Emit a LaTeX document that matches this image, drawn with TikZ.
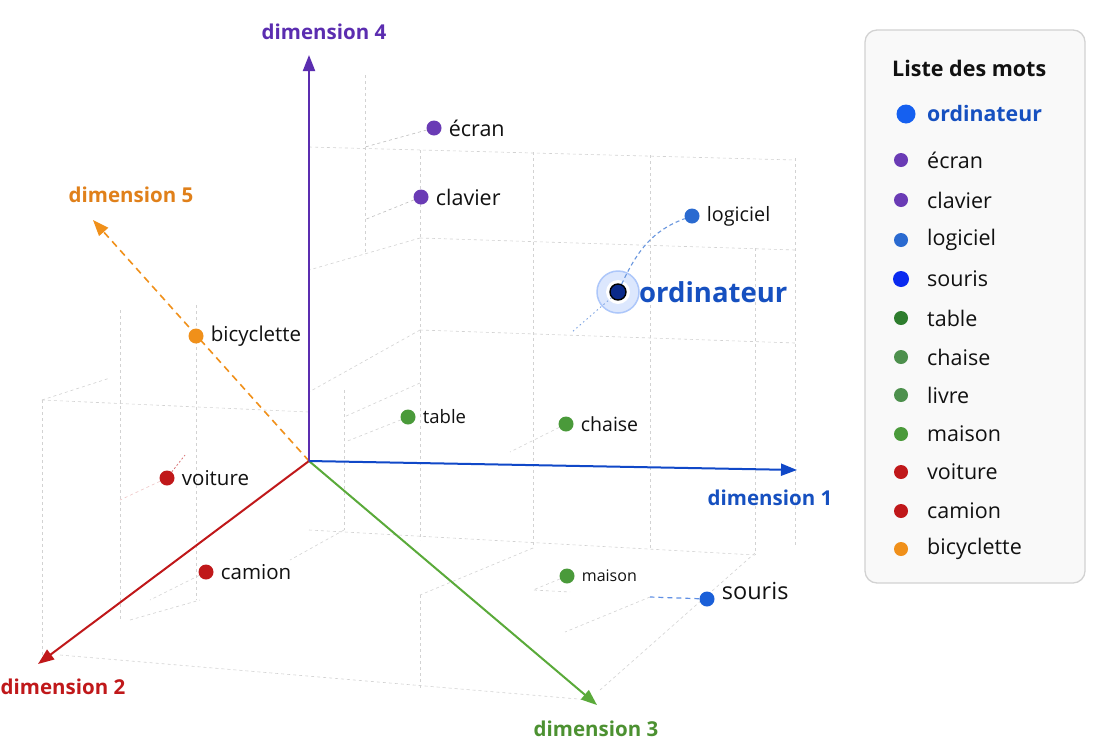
\documentclass[tikz,border=0pt]{standalone}
\usepackage{fontspec}
\setmainfont{Open Sans}
\usetikzlibrary{arrows.meta}
\definecolor{cpurple}{HTML}{5B2DB0}
\definecolor{cpurpt}{HTML}{6A3BB5}
\definecolor{cblue}{HTML}{1048C8}
\definecolor{cbluelab}{HTML}{1650C0}
\definecolor{cred}{HTML}{C0181A}
\definecolor{cgreen}{HTML}{5AAA3A}
\definecolor{cgreenpt}{HTML}{4A9A3A}
\definecolor{cgreenlg}{HTML}{2E7D2E}
\definecolor{corange}{HTML}{F0901A}
\definecolor{corangelab}{HTML}{E0801A}
\definecolor{clogi}{HTML}{2A6AD0}
\definecolor{cnavy}{HTML}{0A2A8A}
\definecolor{csouris}{HTML}{1A5FD8}
\definecolor{csourislg}{HTML}{0A2AF0}
\definecolor{cordlg}{HTML}{1560F0}
\definecolor{cgrid}{HTML}{D2D2D2}
\definecolor{ctext}{HTML}{111111}
\tikzset{
  gridline/.style={cgrid, line width=0.6pt, dash pattern=on 3pt off 3pt},
  axisline/.style={line width=2pt, -{Triangle[length=16pt,width=12pt]}},
  axislab/.style={font=\fontsize{20.5}{23}\selectfont\bfseries, inner sep=0pt},
  pt/.style={circle, inner sep=0pt, minimum size=15pt},
  ptlab/.style={anchor=west, text=ctext, inner sep=0pt, font=\fontsize{20.5}{23}\selectfont},
  lgdot/.style={circle, inner sep=0pt, minimum size=14pt},
  lgtext/.style={anchor=west, text=ctext, inner sep=0pt, font=\fontsize{21.5}{24}\selectfont},
}
\begin{document}
\begin{tikzpicture}[x=1pt,y=-1pt]
\useasboundingbox (0,0) rectangle (1110,753);
\fill[white] (0,0) rectangle (1110,753);
% grid
\draw[gridline] (365,75) -- (365,255);
\draw[gridline] (420,150) -- (420,540);
\draw[gridline] (533,152) -- (533,548);
\draw[gridline] (650,155) -- (650,550);
\draw[gridline] (795,158) -- (795,545);
\draw[gridline] (755,248) -- (755,555);
\draw[gridline] (344,390) -- (344,530);
\draw[gridline] (42,400) -- (42,655);
\draw[gridline] (120,310) -- (120,620);
\draw[gridline] (196,305) -- (196,600);
\draw[gridline] (309,147) -- (795,160);
\draw[gridline] (420,238) -- (795,250);
\draw[gridline] (420,330) -- (795,343);
\draw[gridline] (309,530) -- (755,555);
\draw[gridline] (42,400) -- (309,412);
\draw[gridline] (60,655) -- (590,700);
\draw[gridline] (420,238) -- (309,270);
\draw[gridline] (420,330) -- (309,392);
\draw[gridline] (420,383) -- (344,417);
\draw[gridline] (42,400) -- (110,378);
\draw[gridline] (755,553) -- (600,690);
\draw[gridline] (533,548) -- (420,595);
\draw[gridline] (420,595) -- (420,690);
\draw[gridline] (130,620) -- (200,600);
\draw[gridline] (344,530) -- (290,560);
% axes
\coordinate (O) at (309,461);
\coordinate (e1) at (797,470);
\coordinate (e2) at (38,664);
\coordinate (e3) at (597,705);
\coordinate (e4) at (309,55);
\coordinate (e5) at (93,220);
\draw[axisline, corange, line width=1.6pt, dash pattern=on 7pt off 5pt] (O) -- (e5);
\draw[axisline, cred] (O) -- (e2);
\draw[axisline, cgreen] (O) -- (e3);
\draw[axisline, cblue] (O) -- (e1);
\draw[axisline, cpurple] (O) -- (e4);
\node[axislab, text=cpurple] (l4) at (324,32) {dimension 4};
\node[axislab, text=cbluelab] (l1) at (770,498) {dimension 1};
\node[axislab, text=cred] (l2) at (63,687) {dimension 2};
\node[axislab, text=cgreen!85!black] (l3) at (596,729) {dimension 3};
\node[axislab, text=corangelab] (l5) at (131,195) {dimension 5};
% points
\node[pt, fill=cpurpt] (ecran) at (434,128) {};
\node[pt, fill=cpurpt] (clavier) at (421,197) {};
\node[pt, fill=clogi] (logiciel) at (692,216) {};
\node[pt, fill=corange] (bicy) at (196,336) {};
\node[pt, fill=cgreenpt] (table) at (408,417) {};
\node[pt, fill=cgreenpt] (chaise) at (566,424) {};
\node[pt, fill=cred] (voiture) at (167,478) {};
\node[pt, fill=cred] (camion) at (206,572) {};
\node[pt, fill=cgreenpt] (maison) at (567,576) {};
\node[pt, fill=csouris] (souris) at (707,599) {};
% ordinateur halo
\node[circle, inner sep=0pt, minimum size=42pt, fill=cordlg!15, draw=cordlg!35, line width=1.5pt] (halo) at (618,292) {};
\node[circle, inner sep=0pt, minimum size=24pt, fill=white] (haloin) at (618,292) {};
\node[circle, inner sep=0pt, minimum size=16pt, fill=cnavy, draw=black, line width=1.4pt] (ord) at (618,292) {};
% connectors
\coordinate (ecranc) at (365,147);
\coordinate (clavc) at (364,220);
\coordinate (ordc) at (572,332);
\coordinate (sourc) at (650,597);
\coordinate (sourc2) at (565,632);
\coordinate (voic) at (185,455);
\coordinate (voic2) at (120,500);
\coordinate (tablec) at (345,442);
\coordinate (chaisec) at (510,452);
\coordinate (maisonc) at (533,590);
\coordinate (maisonc2) at (570,592);
\coordinate (camionc) at (150,600);
\draw[gridline, cgrid!90!black] (ecran) -- (ecranc);
\draw[gridline, cgrid!90!black] (clavier) -- (clavc);
\draw[gridline] (table) -- (tablec);
\draw[gridline] (chaise) -- (chaisec);
\draw[gridline] (maison) -- (maisonc) -- (maisonc2);
\draw[gridline] (camion) -- (camionc);
\draw[gridline] (sourc) -- (sourc2);
\draw[clogi!70, line width=1.1pt, dash pattern=on 4pt off 3pt] (ord) to[out=65,in=200] (logiciel);
\draw[clogi!60, line width=0.9pt, dash pattern=on 1.5pt off 3pt] (ord) -- (ordc);
\draw[csouris!70, line width=1.2pt, dash pattern=on 5pt off 4pt] (souris) -- (sourc);
\draw[cred!60, line width=0.8pt, dash pattern=on 2pt off 2pt] (voiture) -- (voic);
\draw[gridline, cred!25] (voiture) -- (voic2);
% point labels
\node[ptlab, font=\fontsize{21.5}{24}\selectfont] (ecranl) at ([xshift=7pt]ecran.east) {écran};
\node[ptlab, font=\fontsize{21.5}{24}\selectfont] (clavierl) at ([xshift=7pt]clavier.east) {clavier};
\node[ptlab, font=\fontsize{19.8}{22}\selectfont] (logicielt) at ([xshift=7pt]logiciel.east) {logiciel};
\node[ptlab] (bicyl) at ([xshift=7pt]bicy.east) {bicyclette};
\node[ptlab, font=\fontsize{18.5}{21}\selectfont] (tablel) at ([xshift=7pt]table.east) {table};
\node[ptlab, font=\fontsize{19.5}{22}\selectfont] (chaisel) at ([xshift=7pt]chaise.east) {chaise};
\node[ptlab] (voiturel) at ([xshift=7pt]voiture.east) {voiture};
\node[ptlab] (camionl) at ([xshift=7pt]camion.east) {camion};
\node[ptlab, font=\fontsize{16}{18}\selectfont] (maisonl) at ([xshift=7pt]maison.east) {maison};
\node[ptlab, font=\fontsize{23.5}{26}\selectfont] (sourisl) at ([xshift=7pt,yshift=8pt]souris.east) {souris};
\node[ptlab, font=\fontsize{27.5}{30}\selectfont\bfseries, text=cbluelab] (ordl) at (639,292) {ordinateur};
% legend
\node[draw=cgrid, line width=1.3pt, fill=gray!5, rounded corners=12pt, minimum width=220pt, minimum height=553pt, inner sep=0pt] (legend) at (975,306.5) {};
\node[anchor=west, inner sep=0pt, text=ctext, font=\fontsize{21.5}{24}\selectfont\bfseries] (lgtitle) at (892,68) {Liste des mots};
\node[lgdot, fill=cordlg, minimum size=19pt] (d1) at (906,114) {};
\node[lgtext, text=cbluelab, font=\fontsize{21.3}{24}\selectfont\bfseries] (t1) at (927,114) {ordinateur};
\node[lgdot, fill=cpurpt] (d2) at (901,160) {};
\node[lgtext] (t2) at (927,160) {écran};
\node[lgdot, fill=cpurpt] (d3) at (901,200) {};
\node[lgtext] (t3) at (927,200) {clavier};
\node[lgdot, fill=clogi] (d4) at (901,240) {};
\node[lgtext] (t4) at (927,240) {logiciel};
\node[lgdot, fill=csourislg, minimum size=16pt] (d5) at (901,279) {};
\node[lgtext] (t5) at (927,279) {souris};
\node[lgdot, fill=cgreenlg] (d6) at (901,318) {};
\node[lgtext] (t6) at (927,318) {table};
\node[lgdot, fill=cgreenlg!85!white] (d7) at (901,357) {};
\node[lgtext] (t7) at (927,357) {chaise};
\node[lgdot, fill=cgreenlg!85!white] (d8) at (901,395) {};
\node[lgtext] (t8) at (927,395) {livre};
\node[lgdot, fill=cgreenpt] (d9) at (901,434) {};
\node[lgtext] (t9) at (927,434) {maison};
\node[lgdot, fill=cred] (d10) at (901,472) {};
\node[lgtext] (t10) at (927,472) {voiture};
\node[lgdot, fill=cred] (d11) at (901,511) {};
\node[lgtext] (t11) at (927,511) {camion};
\node[lgdot, fill=corange] (d12) at (901,549) {};
\node[lgtext] (t12) at (927,549) {bicyclette};
\end{tikzpicture}
\end{document}
